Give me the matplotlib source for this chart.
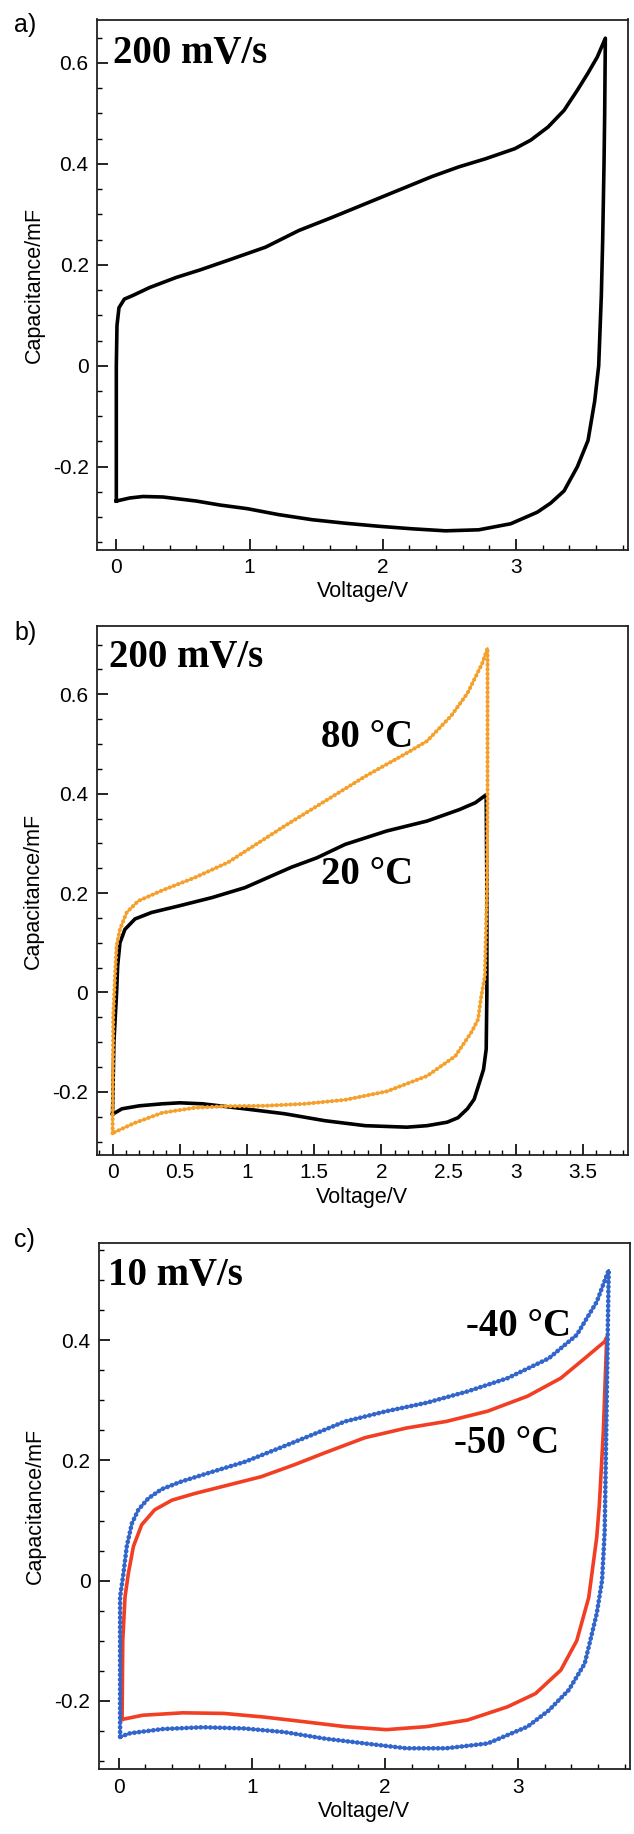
import matplotlib
matplotlib.use("Agg")
import matplotlib.pyplot as plt
from matplotlib.ticker import MultipleLocator, FuncFormatter

plt.rcParams['axes.unicode_minus'] = False
plt.rcParams['font.family'] = ['Liberation Sans', 'DejaVu Sans']

# ---------------- data ----------------
# panel a: 200 mV/s loop
a_v = [0.00, 0.00, 0.005, 0.02, 0.06, 0.13, 0.25, 0.45, 0.63, 0.85, 1.12, 1.37, 1.62, 1.99,
       2.37, 2.57, 2.77, 2.99, 3.11, 3.24, 3.36, 3.46, 3.54, 3.61, 3.67, 3.665, 3.66, 3.65,
       3.64, 3.62, 3.59, 3.54, 3.46, 3.36, 3.26, 3.16, 2.96, 2.72, 2.47, 2.22, 1.97, 1.72,
       1.47, 1.22, 0.98, 0.78, 0.60, 0.35, 0.20, 0.10, 0.00]
a_c = [-0.268, 0.0, 0.08, 0.115, 0.132, 0.14, 0.155, 0.175, 0.19, 0.21, 0.235, 0.268, 0.294,
       0.334, 0.375, 0.394, 0.41, 0.43, 0.447, 0.473, 0.506, 0.546, 0.58, 0.612, 0.649, 0.5,
       0.4, 0.25, 0.14, 0.0, -0.07, -0.148, -0.2, -0.248, -0.272, -0.29, -0.313, -0.325,
       -0.327, -0.323, -0.318, -0.312, -0.305, -0.295, -0.283, -0.276, -0.268, -0.26,
       -0.259, -0.262, -0.268]

# panel b: 20 degC loop
b20_v = [0.00, 0.01, 0.03, 0.038, 0.055, 0.092, 0.167, 0.29, 0.49, 0.74, 0.985, 1.33, 1.52,
         1.73, 2.04, 2.34, 2.58, 2.70, 2.78, 2.785, 2.785, 2.78, 2.76, 2.73, 2.69, 2.64, 2.57,
         2.49, 2.34, 2.19, 1.88, 1.58, 1.28, 0.98, 0.67, 0.50, 0.37, 0.20, 0.07, 0.00]
b20_c = [-0.245, -0.1, 0.0, 0.054, 0.10, 0.127, 0.148, 0.161, 0.174, 0.191, 0.211, 0.252,
         0.271, 0.298, 0.325, 0.345, 0.368, 0.382, 0.398, 0.2, 0.0, -0.114, -0.155, -0.181,
         -0.215, -0.234, -0.252, -0.261, -0.268, -0.271, -0.268, -0.258, -0.244, -0.234,
         -0.224, -0.222, -0.224, -0.228, -0.234, -0.245]

# panel b: 80 degC loop
b80_v = [0.00, 0.005, 0.018, 0.03, 0.055, 0.105, 0.19, 0.365, 0.61, 0.86, 1.28, 1.58, 1.88,
         2.19, 2.34, 2.52, 2.64, 2.75, 2.79, 2.79, 2.785, 2.77, 2.74, 2.72, 2.67, 2.55, 2.34,
         2.04, 1.73, 1.43, 1.13, 0.83, 0.61, 0.37, 0.16, 0.00]
b80_c = [-0.283, -0.047, 0.033, 0.094, 0.127, 0.161, 0.184, 0.205, 0.231, 0.262, 0.335, 0.385,
         0.435, 0.482, 0.506, 0.557, 0.602, 0.662, 0.693, 0.4, 0.2, 0.033, -0.013, -0.054,
         -0.08, -0.128, -0.168, -0.199, -0.216, -0.224, -0.228, -0.229, -0.232, -0.242,
         -0.263, -0.283]

# panel c: -40 degC loop
c40_v = [0.01, 0.01, 0.01, 0.035, 0.06, 0.098, 0.147, 0.222, 0.32, 0.47, 0.70, 0.95, 1.30,
         1.70, 2.01, 2.31, 2.62, 2.92, 3.23, 3.44, 3.59, 3.68, 3.665, 3.65, 3.63, 3.59, 3.50,
         3.38, 3.23, 3.07, 2.77, 2.46, 2.16, 1.85, 1.55, 1.24, 0.94, 0.63, 0.33, 0.085, 0.01]
c40_c = [-0.26, -0.083, -0.027, 0.012, 0.057, 0.095, 0.118, 0.137, 0.152, 0.165, 0.181,
         0.198, 0.229, 0.265, 0.282, 0.296, 0.315, 0.337, 0.370, 0.409, 0.464, 0.517, 0.3,
         0.083, 0.0, -0.055, -0.138, -0.182, -0.216, -0.243, -0.271, -0.279, -0.279,
         -0.271, -0.263, -0.252, -0.246, -0.244, -0.247, -0.254, -0.26]

# panel c: -50 degC loop
c50_v = [0.025, 0.03, 0.047, 0.072, 0.11, 0.172, 0.27, 0.40, 0.57, 0.82, 1.07, 1.32, 1.55,
         1.85, 2.16, 2.46, 2.77, 3.07, 3.32, 3.50, 3.65, 3.665, 3.64, 3.61, 3.59, 3.53, 3.44,
         3.32, 3.13, 2.92, 2.62, 2.31, 2.01, 1.70, 1.40, 1.09, 0.79, 0.48, 0.18, 0.025]
c50_c = [-0.231, -0.1, -0.027, 0.012, 0.057, 0.093, 0.118, 0.134, 0.145, 0.159, 0.173,
         0.193, 0.213, 0.238, 0.254, 0.265, 0.282, 0.307, 0.337, 0.370, 0.398, 0.405, 0.25,
         0.127, 0.072, -0.028, -0.1, -0.149, -0.188, -0.21, -0.232, -0.243, -0.248, -0.243,
         -0.235, -0.227, -0.221, -0.22, -0.224, -0.231]

panel_letters = ["a)", "b)", "c)"]
rate_labels = ["200 mV/s", "200 mV/s", "10 mV/s"]
temp_labels_b = ["80 \u00b0C", "20 \u00b0C"]
temp_labels_c = ["-40 \u00b0C", "-50 \u00b0C"]
x_label = "Voltage/V"
y_label = "Capacitance/mF"

ORANGE = '#F5A02A'
BLUE = '#3366CC'
RED = '#F23E22'

W, H = 634, 1834
fig = plt.figure(figsize=(W / 100, H / 100), dpi=100)


def px_axes(l, t, r, b):
    return fig.add_axes([l / W, 1 - b / H, (r - l) / W, (b - t) / H])


def fmt(v, pos):
    s = ('%.1f' % v)
    if s.endswith('.0'):
        s = s[:-2]
    if s == '-0':
        s = '0'
    return s


def style(ax, xlim, ylim, xmaj, xmin, ymaj, ymin):
    ax.set_xlim(*xlim)
    ax.set_ylim(*ylim)
    ax.xaxis.set_major_locator(MultipleLocator(xmaj))
    ax.xaxis.set_minor_locator(MultipleLocator(xmin))
    ax.yaxis.set_major_locator(MultipleLocator(ymaj))
    ax.yaxis.set_minor_locator(MultipleLocator(ymin))
    ax.xaxis.set_major_formatter(FuncFormatter(fmt))
    ax.yaxis.set_major_formatter(FuncFormatter(fmt))
    ax.tick_params(which='major', direction='in', length=8, width=1.2, labelsize=15,
                   top=False, right=False)
    ax.tick_params(which='minor', direction='in', length=3.8, width=1.0,
                   top=False, right=False)
    ax.tick_params(axis='x', which='major', pad=6)
    ax.tick_params(axis='y', which='major', pad=6)
    for sp in ax.spines.values():
        sp.set_linewidth(1.3)
        sp.set_color('#222222')
    ax.set_xlabel(x_label, fontsize=15.5, labelpad=3)
    ax.set_ylabel(y_label, fontsize=15.5, labelpad=6)


serif = dict(family=['Liberation Serif', 'DejaVu Serif'], fontweight='bold', fontsize=28)


def beaded(ax, v, c, color, lw, gap):
    ax.plot(v, c, color=color, lw=lw * 0.5, solid_joinstyle='round')
    ax.plot(v, c, color=color, lw=lw, linestyle=(0, (0.01, gap)),
            dash_capstyle='round', solid_joinstyle='round')


# ---------------- panel a ----------------
axa = px_axes(97, 19.5, 628, 550)
style(axa, (-0.145, 3.84), (-0.365, 0.686), 1, 0.2, 0.2, 0.05)
axa.plot(a_v, a_c, color='black', lw=2.6, solid_joinstyle='round')
axa.text(0.030, 0.918, rate_labels[0], transform=axa.transAxes, va='baseline', ha='left', **serif)

# ---------------- panel b ----------------
axb = px_axes(96.7, 626, 628, 1155)
style(axb, (-0.118, 3.835), (-0.327, 0.7375), 0.5, 0.1, 0.2, 0.05)
axb.plot(b20_v, b20_c, color='black', lw=2.6, solid_joinstyle='round')
beaded(axb, b80_v, b80_c, ORANGE, 3.0, 1.1)
axb.text(0.023, 0.922, rate_labels[1], transform=axb.transAxes, va='baseline', ha='left', **serif)
axb.text(1.55, 0.494, temp_labels_b[0], va='baseline', ha='left', **serif)
axb.text(1.55, 0.218, temp_labels_b[1], va='baseline', ha='left', **serif)

# ---------------- panel c ----------------
axc = px_axes(98.8, 1243, 630, 1769.3)
style(axc, (-0.15, 3.84), (-0.314, 0.562), 1, 0.2, 0.2, 0.05)
axc.plot(c50_v, c50_c, color=RED, lw=2.6, solid_joinstyle='round')
beaded(axc, c40_v, c40_c, BLUE, 3.4, 1.0)
axc.text(0.017, 0.920, rate_labels[2], transform=axc.transAxes, va='baseline', ha='left', **serif)
axc.text(2.61, 0.408, temp_labels_c[0], va='baseline', ha='left', **serif)
axc.text(2.52, 0.213, temp_labels_c[1], va='baseline', ha='left', **serif)

# panel letters
for lab, ypx in zip(panel_letters, [25, 633, 1240]):
    fig.text(14 / W, 1 - ypx / H, lab, fontsize=18, ha='left', va='center')

fig.savefig('out.png', dpi=100)
